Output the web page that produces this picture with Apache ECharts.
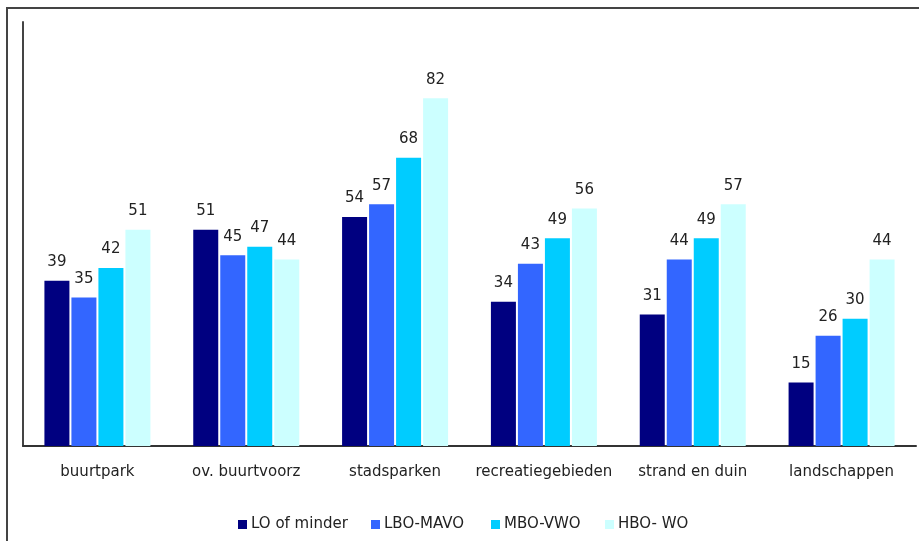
<!DOCTYPE html>
<html>
<head>
<meta charset="utf-8">
<script src="https://cdn.jsdelivr.net/npm/echarts@6/dist/echarts.min.js"></script>
<style>
html,body{margin:0;padding:0;background:#fff;}
#chart{width:919px;height:541px;}
</style>
</head>
<body>
<div id="chart"></div>
<script>
const categories = ['buurtpark', 'ov. buurtvoorz', 'stadsparken', 'recreatiegebieden', 'strand en duin', 'landschappen'];
const seriesNames = ['LO of minder', 'LBO-MAVO', 'MBO-VWO', 'HBO- WO'];
const loOfMinder = [39, 51, 54, 34, 31, 15];
const lboMavo = [35, 45, 57, 43, 44, 26];
const mboVwo = [42, 47, 68, 49, 49, 30];
const hboWo = [51, 44, 82, 56, 57, 44];
const colors = ['#000080', '#3366FF', '#00CCFF', '#CCFFFF'];
const legendLefts = [233, 366, 486, 600];

const seriesData = [loOfMinder, lboMavo, mboVwo, hboWo];
const font = 'DejaVu Sans';

const chart = echarts.init(document.getElementById('chart'), null, {renderer: 'canvas'});
chart.setOption({
  animation: false,
  backgroundColor: '#fff',
  textStyle: {fontFamily: font},
  graphic: [{
    type: 'rect',
    shape: {x: 7, y: 8, width: 1000, height: 1000},
    style: {fill: 'none', stroke: '#444', lineWidth: 2},
    silent: true
  }],
  legend: seriesNames.map((n, i) => ({
    data: [n],
    left: legendLefts[i],
    top: 512,
    itemWidth: 9,
    itemHeight: 9,
    icon: 'rect',
    selectedMode: false,
    textStyle: {fontFamily: font, fontSize: 15, color: '#222', padding: [0, 0, 0, -1]}
  })),
  grid: {left: 23, right: 3, top: 22, bottom: 95, containLabel: false},
  xAxis: {
    type: 'category',
    data: categories,
    axisLine: {show: true, lineStyle: {color: '#333', width: 2}},
    axisTick: {show: false},
    axisLabel: {fontFamily: font, fontSize: 15, color: '#222', margin: 19, interval: 0}
  },
  yAxis: {
    type: 'value',
    min: 0,
    max: 100,
    axisLine: {show: true, lineStyle: {color: '#444', width: 2}},
    axisTick: {show: false},
    axisLabel: {show: false},
    splitLine: {show: false}
  },
  series: seriesData.map((d, i) => ({
    name: seriesNames[i],
    type: 'bar',
    data: d,
    barWidth: 25,
    barGap: '8%',
    itemStyle: {color: colors[i]},
    label: {
      show: true,
      position: 'top',
      distance: 11,
      fontFamily: font,
      fontSize: 15,
      color: '#222'
    }
  }))
});
</script>
</body>
</html>
